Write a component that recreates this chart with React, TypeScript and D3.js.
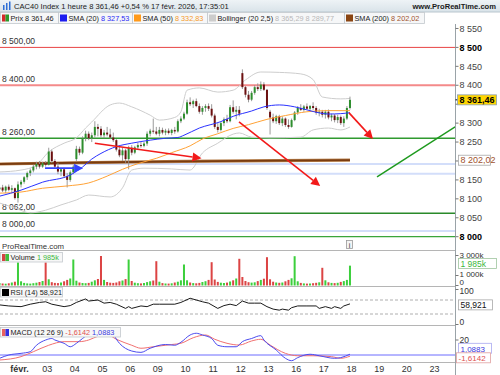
import * as d3 from "d3";

const FONT = "'Liberation Sans', Arial, Helvetica, sans-serif";
const W = 500;
const H = 375;

// bougies 1 heure, du 30 janv. 13:00 au 17 févr. 17:00
const opens = [
  8125, 8130, 8122, 8132, 8124, 8128, 8102,
  8138, 8145, 8157, 8168, 8175, 8185, 8192, 8185, 8194,
  8190, 8225, 8200, 8185, 8172, 8178, 8160, 8150, 8170,
  8205, 8232, 8222, 8260, 8272, 8260, 8268, 8290, 8285,
  8268, 8275, 8270, 8262, 8255, 8230, 8215, 8228, 8205,
  8235, 8222, 8236, 8242, 8240, 8246, 8272, 8280, 8278,
  8272, 8282, 8275, 8280, 8274, 8282, 8278, 8305, 8312,
  8325, 8355, 8350, 8358, 8345, 8330, 8340, 8345, 8338,
  8320, 8290, 8282, 8300, 8310, 8305, 8342, 8330, 8335,
  8432, 8395, 8375, 8362, 8380, 8395, 8390, 8402, 8388,
  8330, 8315, 8305, 8318, 8300, 8312, 8295, 8290, 8308,
  8328, 8340, 8335, 8344, 8338, 8345, 8340, 8328, 8330,
  8322, 8330, 8315, 8320, 8308, 8316, 8300, 8312, 8340,
];
const highs = [
  8138, 8137, 8135, 8138, 8136, 8130, 8146,
  8150, 8160, 8172, 8180, 8190, 8198, 8200, 8198, 8200,
  8235, 8230, 8205, 8195, 8180, 8182, 8168, 8175, 8190,
  8240, 8238, 8265, 8280, 8278, 8275, 8305, 8298, 8292,
  8282, 8290, 8285, 8275, 8258, 8240, 8235, 8232, 8240,
  8242, 8240, 8248, 8250, 8250, 8278, 8285, 8312, 8290,
  8290, 8288, 8285, 8286, 8285, 8290, 8310, 8318, 8330,
  8362, 8368, 8362, 8365, 8352, 8345, 8350, 8352, 8350,
  8325, 8300, 8305, 8315, 8322, 8348, 8360, 8345, 8345,
  8442, 8398, 8385, 8385, 8400, 8405, 8410, 8408, 8390,
  8335, 8325, 8322, 8322, 8318, 8315, 8310, 8312, 8332,
  8345, 8350, 8348, 8352, 8348, 8355, 8345, 8338, 8335,
  8335, 8336, 8325, 8324, 8322, 8320, 8318, 8345, 8370,
];
const lows = [
  8112, 8118, 8115, 8120, 8117, 8098, 8090,
  8130, 8140, 8150, 8160, 8170, 8178, 8180, 8182, 8185,
  8188, 8195, 8180, 8165, 8160, 8155, 8130, 8145, 8165,
  8200, 8215, 8218, 8252, 8255, 8250, 8262, 8265, 8262,
  8260, 8265, 8258, 8250, 8225, 8210, 8200, 8195, 8178,
  8215, 8218, 8230, 8235, 8236, 8240, 8265, 8272, 8268,
  8265, 8270, 8268, 8270, 8268, 8272, 8275, 8300, 8308,
  8322, 8345, 8340, 8342, 8325, 8322, 8330, 8332, 8315,
  8285, 8275, 8278, 8292, 8300, 8302, 8325, 8310, 8318,
  8390, 8368, 8355, 8358, 8375, 8385, 8385, 8385, 8335,
  8270, 8300, 8298, 8295, 8292, 8290, 8285, 8288, 8305,
  8322, 8332, 8330, 8335, 8332, 8335, 8322, 8318, 8315,
  8312, 8310, 8305, 8302, 8300, 8295, 8290, 8308, 8336,
];
const closes = [
  8130, 8122, 8132, 8124, 8128, 8102, 8138,
  8145, 8157, 8168, 8175, 8185, 8192, 8185, 8194, 8190,
  8225, 8200, 8185, 8172, 8178, 8160, 8150, 8170, 8185,
  8232, 8222, 8260, 8272, 8260, 8268, 8290, 8285, 8268,
  8275, 8270, 8262, 8255, 8230, 8215, 8228, 8205, 8235,
  8222, 8236, 8242, 8240, 8246, 8272, 8280, 8278, 8272,
  8282, 8275, 8280, 8274, 8282, 8278, 8305, 8312, 8325,
  8355, 8350, 8358, 8345, 8330, 8340, 8345, 8338, 8320,
  8290, 8282, 8300, 8310, 8305, 8342, 8330, 8335, 8325,
  8395, 8375, 8362, 8380, 8395, 8390, 8402, 8388, 8340,
  8315, 8305, 8318, 8300, 8312, 8295, 8290, 8308, 8328,
  8340, 8335, 8344, 8338, 8345, 8340, 8328, 8330, 8322,
  8330, 8315, 8320, 8308, 8316, 8300, 8312, 8340, 8361.46,
];
// volume en milliers
const volumes = [
  250, 200, 180, 220, 300, 380, 2300,
  420, 260, 210, 190, 230, 280, 350, 450, 2300,
  620, 330, 260, 240, 300, 420, 560, 700, 2600,
  480, 300, 250, 230, 260, 380, 520, 650, 2950,
  560, 350, 280, 260, 300, 420, 500, 640, 2600,
  450, 280, 230, 210, 250, 340, 420, 500, 2430,
  380, 240, 200, 190, 220, 300, 380, 520, 2100,
  520, 300, 240, 220, 260, 350, 430, 560, 2330,
  600, 360, 280, 250, 290, 400, 520, 700, 2670,
  850, 450, 330, 290, 320, 440, 560, 680, 2830,
  620, 380, 300, 270, 300, 420, 560, 720, 2930,
  420, 260, 210, 190, 200, 230, 270, 320, 1770,
  520, 320, 260, 240, 270, 360, 440, 560, 1985,
];

// indicateurs : [barre, valeur]
const sma20: [number, number][] = [
  [0, 8107], [7, 8123], [14, 8144], [23, 8163], [27, 8184], [30, 8205], [33, 8220],
  [38, 8238], [43, 8247], [49, 8255], [54, 8260], [58, 8262], [60, 8268], [65, 8287],
  [72, 8304], [76, 8318], [82, 8332], [86, 8343], [91, 8348], [96, 8343], [100, 8335],
  [104, 8327], [107, 8324], [111, 8325], [114, 8327.53],
];
const sma50: [number, number][] = [
  [0, 8115], [7, 8118], [14, 8128], [22, 8134], [29, 8142], [35, 8160], [40, 8178],
  [45, 8193], [51, 8207], [56, 8222], [62, 8240], [66, 8258], [71, 8272], [76, 8286],
  [81, 8296], [87, 8310], [93, 8320], [100, 8330], [107, 8333], [114, 8332.83],
];
const bollUp: [number, number][] = [
  [0, 8171], [7, 8176], [12, 8189], [16, 8224], [21, 8247], [25, 8261], [28, 8287],
  [30, 8303], [36, 8348], [39, 8353], [43, 8343], [49, 8321], [52, 8308], [57, 8315],
  [59, 8330], [61, 8387], [65, 8393], [71, 8382], [76, 8387], [80, 8414], [85, 8435],
  [91, 8434], [98, 8430], [102, 8415], [105, 8369], [111, 8364], [114, 8365.29],
];
const bollLow: [number, number][] = [
  [0, 8089], [5, 8076], [10, 8063], [15, 8070], [20, 8084], [25, 8097], [29, 8110],
  [36, 8105], [40, 8129], [43, 8176], [47, 8181], [56, 8179], [62, 8176], [66, 8221],
  [71, 8247], [76, 8271], [78, 8274], [82, 8263], [88, 8261], [98, 8263], [102, 8282],
  [107, 8287], [111, 8282], [114, 8289.77],
];
const sma200: [number, number][] = [
  [0, 8192], [30, 8196], [60, 8199], [90, 8201], [114, 8202.02],
];
const rsi: [number, number][] = [
  [0, 56], [3, 53], [7, 51], [10, 58], [13, 63], [15, 65], [17, 58], [21, 51], [23, 54],
  [25, 63], [28, 73], [29, 67], [32, 70], [34, 61], [36, 63], [38, 58], [41, 46], [42, 51],
  [43, 46], [46, 53], [48, 51], [50, 58], [52, 58], [57, 58], [59, 63], [60, 67], [62, 75],
  [64, 70], [66, 65], [68, 61], [71, 46], [73, 54], [75, 58], [77, 54], [79, 67], [81, 61],
  [83, 61], [85, 61], [87, 51], [89, 44], [91, 41], [92, 44], [94, 41], [95, 48], [97, 53],
  [100, 53], [103, 53], [104, 46], [106, 51], [108, 46], [109, 51], [111, 46], [112, 53],
  [114, 58.921],
];
const macd: [number, number][] = [
  [0, -4.4], [3, 0], [7, 2.2], [10, 4.4], [12, 13], [15, 20], [17, 22], [18, 20], [21, 15.6],
  [23, 11], [25, 15.6], [27, 22], [31, 32], [34, 33], [37, 26.7], [39, 15.6], [43, 5.3],
  [46, 3.5], [49, 9], [54, 14], [57, 13], [59, 17], [62, 26.7], [64, 29], [66, 26.7],
  [69, 22], [71, 13], [74, 11], [77, 11], [79, 17.8], [82, 22], [85, 25.8], [86, 20],
  [90, 6.7], [93, -4.4], [95, -7.6], [97, -3.5], [101, 1], [104, -1], [109, -4.4],
  [111, -3.5], [114, 1.0883],
];
const signal: [number, number][] = [
  [0, -6.7], [7, -2.2], [11, 4.4], [16, 13], [21, 17.8], [26, 17.8], [29, 20], [32, 25],
  [35, 27], [38, 21], [43, 13], [46, 9], [50, 11], [56, 14], [59, 15.6], [63, 23],
  [67, 26.7], [70, 21], [74, 15.6], [78, 13.3], [82, 18.7], [85, 21], [88, 13.3],
  [93, 2.2], [97, -1], [102, -1], [108, -2.2], [111, -4.4], [114, -1.6142],
];

// lignes horizontales tracées à la main
const levels = [8500, 8400, 8260, 8062, 8000];
const levelColors = ["#e84444", "#f48a8a", "#2f9a2f", "#2a8a2a", "#3aa53a"];
const levelWidths = [1, 2, 1.3, 1.3, 1.3];
const levelLabelDy = [-3, -3, -3, -3, -10];
const blueLevels = [8192, 8166, 8015];

// flèches et oblique : [barre, prix]
const redArrows: [number, number][][] = [
  [[31, 8247], [65.7, 8207]],
  [[77.9, 8303], [104.3, 8134]],
  [[113.7, 8327], [121.5, 8258]],
];
const blueArrow: [number, number][] = [[14.8, 8181], [27.2, 8181]];
const greenLine: [number, number][] = [[122.8, 8158], [148.2, 8290]];

const dayLabels = ["févr.", "03", "04", "05", "06", "09", "10", "11", "12", "13", "16", "17", "18", "19", "20", "23"];
const firstDayBar = 7;
const barsPerDay = 9;

// 8 350 et 8 200 sont cachés par les étiquettes de prix
const priceTicks = [8550, 8500, 8450, 8400, 8350, 8300, 8250, 8200, 8150, 8100, 8050, 8000];
const hiddenTicks = [8350, 8200];
const boldTicks = [8500, 8000];

const fr = d3.formatLocale({ decimal: ",", thousands: " ", grouping: [3], currency: ["", ""], minus: "-" });
const f2 = fr.format(",.2f");
const fInt = fr.format(",d");

const AXIS_X = 455.5;
const BAR_W = 3.074;
const x = d3.scaleLinear().domain([0, 148]).range([-2, -2 + 148 * BAR_W]);
const cx = (i: number) => x(i + 0.5);
const yP = d3.scaleLinear().domain([8000, 8500]).range([236.7, 47.4]);
const yV = d3.scaleLinear().domain([0, 3000]).range([285.5, 255.5]);
const yR = d3.scaleLinear().domain([0, 100]).range([324.5, 289.5]);
const yM = d3.scaleLinear().domain([0, 20]).range([355, 340]);

const lineP = d3.line<[number, number]>().x((d) => cx(d[0])).y((d) => yP(d[1])).curve(d3.curveMonotoneX);
const lineR = d3.line<[number, number]>().x((d) => cx(d[0])).y((d) => yR(d[1]));
const lineM = d3.line<[number, number]>().x((d) => cx(d[0])).y((d) => yM(d[1])).curve(d3.curveMonotoneX);

const last = <T,>(a: T[]) => a[a.length - 1];

const Arrow = ({ pts, color }: { pts: [number, number][]; color: string }) => {
  const [a, b] = pts;
  const x1 = cx(a[0]), y1 = yP(a[1]), x2 = cx(b[0]), y2 = yP(b[1]);
  const ang = Math.atan2(y2 - y1, x2 - x1);
  const L = 9, Wd = 4.5;
  const bx = x2 - L * Math.cos(ang), by = y2 - L * Math.sin(ang);
  const px = -Math.sin(ang) * Wd, py = Math.cos(ang) * Wd;
  return (
    <g>
      <line x1={x1} y1={y1} x2={bx} y2={by} stroke={color} strokeWidth={1.6} />
      <path d={`M${x2},${y2}L${bx + px},${by + py}L${bx - px},${by - py}Z`} fill={color} />
    </g>
  );
};

const Icon = ({ x0, y0, colors }: { x0: number; y0: number; colors: string[] }) => (
  <g>
    {colors.map((c, k) => (
      <rect key={k} x={x0 + (k * 7) / colors.length} y={y0} width={7 / colors.length} height={7} fill={c} />
    ))}
  </g>
);

const ValueBox = ({ x0, yc, w, text, color, fill, stroke, bold, size = 9 }: any) => (
  <g>
    <rect x={x0} y={yc - 5} width={w} height={10} fill={fill} stroke={stroke} strokeWidth={0.8} />
    <text x={x0 + 2} y={yc + 3.2} fontSize={size} fill={color} fontWeight={bold ? "bold" : "normal"}>{text}</text>
  </g>
);

export default function App() {
  const legend = [
    { x0: 0, x1: 58, icon: ["#d42a2a", "#2a9a2a"], name: "Prix ", vals: [[f2(last(closes)), "#222"]] },
    { x0: 58, x1: 132, icon: ["#1c1cf0"], name: "SMA (20) ", vals: [[f2(last(sma20)[1]), "#2b2bf5"]] },
    { x0: 132, x1: 207, icon: ["#ff9a1a"], name: "SMA (50) ", vals: [[f2(last(sma50)[1]), "#f59a2a"]] },
    { x0: 207, x1: 344, icon: ["#cccccc"], name: "Bollinger (20 2,5) ", vals: [[f2(last(bollUp)[1]) + " " + f2(last(bollLow)[1]), "#b8b8b8"]] },
    { x0: 344, x1: 424, icon: ["#8a4512"], name: "SMA (200) ", vals: [[f2(last(sma200)[1]), "#a0522d"]] },
  ];
  const rsiLast = last(rsi)[1];
  const macdLast = last(macd)[1];
  const sigLast = last(signal)[1];
  const LEG = 7.3;

  return (
    <svg width={W} height={H} style={{ position: "absolute", left: 0, top: 0 }} fontFamily={FONT}>
      <defs>
        <clipPath id="plot"><rect x={0} y={24} width={AXIS_X} height={339} /></clipPath>
        <linearGradient id="hdr" x1="0" y1="0" x2="0" y2="1">
          <stop offset="0" stopColor="#eef3f6" />
          <stop offset="1" stopColor="#d9e3e9" />
        </linearGradient>
      </defs>
      <rect width={W} height={H} fill="#fff" />

      {/* en-tête */}
      <rect x={0} y={0} width={W} height={12} fill="url(#hdr)" />
      <line x1={0} x2={W} y1={12} y2={12} stroke="#b9c6ce" />
      <g fill="#2f6fd6">
        <rect x={3} y={5} width={1.5} height={5} />
        <rect x={6} y={3} width={1.5} height={7} />
        <rect x={9} y={1.5} width={1.5} height={8.5} />
      </g>
      <text x={14} y={9.3} fontSize={7.6} fill="#1a1a1a">
        {`CAC40 Index 1 heure ${f2(last(closes))} +0,54 % 17 févr. 2026, 17:35:01`}
      </text>
      <text x={496} y={9.3} fontSize={7.6} fontWeight="bold" fill="#1a1a1a" textAnchor="end">www.ProRealTime.com</text>

      {/* légende */}
      {legend.map((it, k) => (
        <g key={k}>
          <rect x={it.x0 + 0.5} y={12.5} width={it.x1 - it.x0} height={11} fill="#f6f7f8" stroke="#c2c8cc" strokeWidth={0.8} />
          <Icon x0={it.x0 + 2} y0={14.5} colors={it.icon} />
          <text x={it.x0 + 10.5} y={21} fontSize={LEG} fill="#222">
            {it.name}
            {it.vals.map((v, j) => (
              <tspan key={j} fill={v[1]}>{v[0]}</tspan>
            ))}
          </text>
        </g>
      ))}

      <g clipPath="url(#plot)">
        {/* niveaux */}
        {blueLevels.map((l, k) => (
          <line key={k} x1={0} x2={AXIS_X} y1={yP(l)} y2={yP(l)} stroke="#d3defa" strokeWidth={2} />
        ))}
        {levels.map((l, k) => (
          <g key={k}>
            <line x1={0} x2={AXIS_X} y1={yP(l)} y2={yP(l)} stroke={levelColors[k]} strokeWidth={levelWidths[k]} />
            <text x={2} y={yP(l) + levelLabelDy[k]} fontSize={8.5} fill="#333">{f2(l)}</text>
          </g>
        ))}

        {/* Bollinger & SMA200 */}
        <path d={lineP(bollUp) || ""} fill="none" stroke="#cdcdcd" strokeWidth={1} />
        <path d={lineP(bollLow) || ""} fill="none" stroke="#cdcdcd" strokeWidth={1} />
        <path d={lineP(sma200) || ""} fill="none" stroke="#b8804c" strokeWidth={3.2} />
        <path d={lineP(sma200) || ""} fill="none" stroke="#7a3c10" strokeWidth={1.8} />

        {/* bougies */}
        {closes.map((c, i) => {
          const o = opens[i];
          const up = c >= o;
          const top = yP(Math.max(o, c));
          const bot = yP(Math.min(o, c));
          return (
            <g key={i}>
              <line x1={cx(i)} x2={cx(i)} y1={yP(highs[i])} y2={yP(lows[i])} stroke="#8f8f8f" strokeWidth={0.9} />
              <rect x={cx(i) - 1} y={top} width={2} height={Math.max(1, bot - top)} fill={up ? "#2e8e2e" : "#6c1010"} />
            </g>
          );
        })}

        <path d={lineP(sma50) || ""} fill="none" stroke="#ffa236" strokeWidth={1} />
        <path d={lineP(sma20) || ""} fill="none" stroke="#2a32ff" strokeWidth={1} />

        {/* annotations */}
        {redArrows.map((a, k) => (
          <Arrow key={k} pts={a} color="#f21a1a" />
        ))}
        <Arrow pts={blueArrow} color="#3344ff" />
        <line x1={cx(greenLine[0][0])} y1={yP(greenLine[0][1])} x2={cx(greenLine[1][0])} y2={yP(greenLine[1][1])} stroke="#1e9a1e" strokeWidth={1.4} />

        {/* volume */}
        {volumes.map((v, i) => (
          <rect key={i} x={cx(i) - 1} y={yV(v)} width={2} height={yV(0) - yV(v)} fill={closes[i] >= opens[i] ? "#3ccf3c" : "#dc4444"} />
        ))}

        {/* RSI */}
        {[70, 30].map((l) => (
          <line key={l} x1={0} x2={AXIS_X} y1={yR(l)} y2={yR(l)} stroke="#9a9a9a" strokeDasharray="3,2" strokeWidth={0.8} />
        ))}
        <path d={lineR(rsi) || ""} fill="none" stroke="#1a1a1a" strokeWidth={1} />

        {/* MACD */}
        <line x1={0} x2={AXIS_X} y1={yM(0)} y2={yM(0)} stroke="#6d6dff" strokeWidth={1} />
        <path d={lineM(signal) || ""} fill="none" stroke="#f07070" strokeWidth={1} />
        <path d={lineM(macd) || ""} fill="none" stroke="#4a4aee" strokeWidth={1} />
      </g>

      {/* séparateurs */}
      {[250.5, 286.5, 325.5, 362.5].map((y) => (
        <line key={y} x1={0} x2={AXIS_X} y1={y} y2={y} stroke="#b5b5b5" strokeWidth={1} />
      ))}
      <line x1={AXIS_X} x2={AXIS_X} y1={24} y2={375} stroke="#9aa3a8" strokeWidth={1} />

      <text x={2} y={248.5} fontSize={7.8} fill="#333">ProRealTime.com</text>
      <rect x={346.5} y={240.5} width={6} height={8} fill="#f4f4f4" stroke="#999" strokeWidth={0.8} />
      <text x={349.5} y={247.5} fontSize={7} fill="#333" textAnchor="middle">i</text>

      {/* légendes des sous-graphiques */}
      <rect x={0.5} y={252.5} width={62} height={9.5} fill="#f7f7f7" stroke="#c2c8cc" strokeWidth={0.8} />
      <Icon x0={2} y0={254} colors={["#d44444", "#3cbf3c"]} />
      <text x={10.5} y={260.3} fontSize={LEG} fill="#222">Volume <tspan fill="#3cb83c">{fInt(1985)}k</tspan></text>

      <rect x={0.5} y={287.5} width={62} height={9.5} fill="#f7f7f7" stroke="#c2c8cc" strokeWidth={0.8} />
      <Icon x0={2} y0={289} colors={["#000"]} />
      <text x={10.5} y={295.3} fontSize={LEG} fill="#222">RSI (14) {fr.format(".3f")(rsiLast)}</text>

      <rect x={0.5} y={327.5} width={120} height={9.5} fill="#f7f7f7" stroke="#c2c8cc" strokeWidth={0.8} />
      <Icon x0={2} y0={329} colors={["#e86060", "#3030e0"]} />
      <text x={10.5} y={335.3} fontSize={LEG} fill="#222">
        MACD (12 26 9) <tspan fill="#e05050">{fr.format(".4f")(sigLast)}</tspan> <tspan fill="#3a3ae0">{fr.format(".4f")(macdLast)}</tspan>
      </text>

      {/* axe des prix */}
      {priceTicks.map((t) => (
        <g key={t}>
          <line x1={AXIS_X} x2={AXIS_X + 3} y1={yP(t)} y2={yP(t)} stroke="#777" />
          {!hiddenTicks.includes(t) && (
            <text x={AXIS_X + 4} y={yP(t) + 3.2} fontSize={9} fill={boldTicks.includes(t) ? "#000" : "#444"} fontWeight={boldTicks.includes(t) ? "bold" : "normal"}>{fInt(t)}</text>
          )}
        </g>
      ))}
      <line x1={AXIS_X} x2={AXIS_X + 3} y1={yP(last(closes))} y2={yP(last(closes))} stroke="#000" />
      <ValueBox x0={457.5} yc={yP(last(closes))} w={39} text={f2(last(closes))} color="#000" fill="#ffd500" stroke="#8aa0b8" bold />
      <ValueBox x0={458.5} yc={yP(last(sma200)[1])} w={32} text={f2(last(sma200)[1])} color="#a0522d" fill="#fff" stroke="#a8a8a8" />

      {/* axes des sous-graphiques */}
      {[3000, 1000, 0].map((v) => (
        <g key={v}>
          <line x1={AXIS_X} x2={AXIS_X + 3} y1={yV(v)} y2={yV(v)} stroke="#777" />
          <text x={AXIS_X + 4} y={v === 0 ? 284.8 : yV(v) + (v === 1000 ? 1.3 : 2.5)} fontSize={8} fill="#333">{v === 0 ? "0" : fInt(v) + "k"}</text>
        </g>
      ))}
      <ValueBox x0={458.5} yc={263.5} w={38} text={fInt(1985) + "k"} color="#3cb83c" fill="#fff" stroke="#9fc59f" size={8.5} />
      {[100, 0].map((v) => (
        <g key={v}>
          <line x1={AXIS_X} x2={AXIS_X + 3} y1={yR(v)} y2={yR(v)} stroke="#777" />
          <text x={AXIS_X + 4} y={yR(v) + (v === 0 ? 0.5 : 4.2)} fontSize={8.5} fill="#333">{v}</text>
        </g>
      ))}
      <ValueBox x0={458.5} yc={yR(rsiLast) + 1} w={34} text={fr.format(".3f")(rsiLast)} color="#111" fill="#fff" stroke="#a8a8a8" size={8.5} />
      <line x1={AXIS_X} x2={AXIS_X + 3} y1={yM(20)} y2={yM(20)} stroke="#777" />
      <text x={AXIS_X + 4} y={yM(20) + 3.2} fontSize={8.5} fill="#333">20</text>
      <ValueBox x0={458.5} yc={348.3} w={33} text={fr.format(".4f")(macdLast)} color="#3a3ae0" fill="#fff" stroke="#a8a8f0" size={8} />
      <ValueBox x0={456.5} yc={357.8} w={34} text={fr.format(".4f")(sigLast)} color="#e05050" fill="#fff" stroke="#e0a0a0" size={8} />

      {/* axe du temps */}
      {dayLabels.map((d, k) => (
        <text key={d} x={x(firstDayBar + k * barsPerDay)} y={371.5} fontSize={9} fill="#333" textAnchor="middle" fontWeight={k === 0 ? "bold" : "normal"}>
          {d}
        </text>
      ))}
    </svg>
  );
}
